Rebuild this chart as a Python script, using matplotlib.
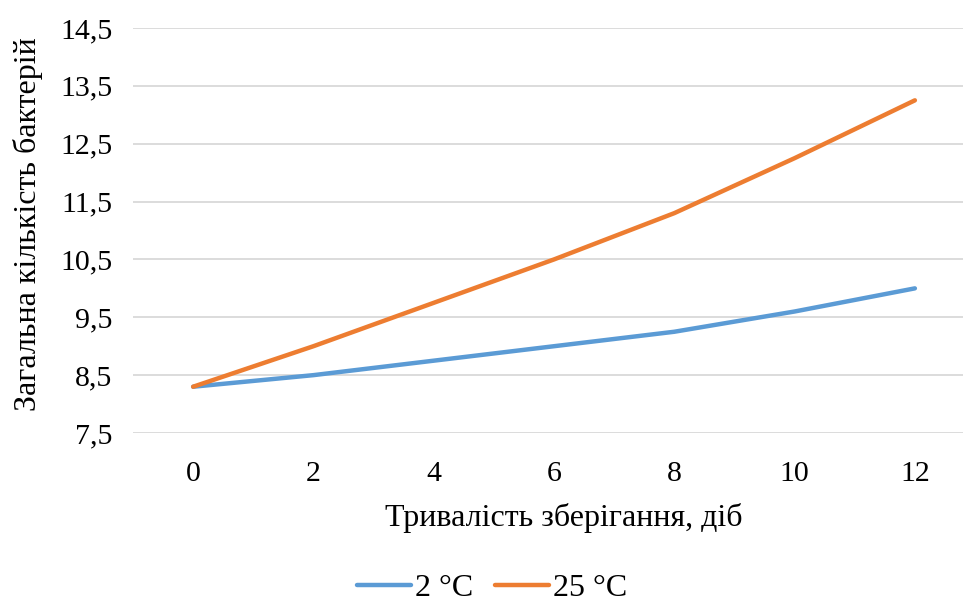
import matplotlib
matplotlib.use("Agg")
import matplotlib.pyplot as plt
from matplotlib.ticker import FuncFormatter

days = [0, 2, 4, 6, 8, 10, 12]
t2 = [8.3, 8.5, 8.75, 9.0, 9.25, 9.6, 10.0]
t25 = [8.3, 9.0, 9.75, 10.5, 11.3, 12.25, 13.25]
series_labels = ["2 °C", "25 °C"]
yticks = [7.5, 8.5, 9.5, 10.5, 11.5, 12.5, 13.5, 14.5]

plt.rcParams['font.family'] = ['Liberation Serif', 'DejaVu Serif']

W, H = 963, 605
fig = plt.figure(figsize=(W / 100, H / 100), dpi=100)
ax_l, ax_r, ax_t, ax_b = 133, 963, 28, 433
ax = fig.add_axes([ax_l / W, 1 - ax_b / H, (ax_r - ax_l) / W, (ax_b - ax_t) / H])

l1, = ax.plot(days, t2, color="#5B9BD5", lw=3.2, solid_capstyle="round", solid_joinstyle="round", label=series_labels[0])
l2, = ax.plot(days, t25, color="#ED7D31", lw=3.2, solid_capstyle="round", solid_joinstyle="round", label=series_labels[1])

ax.set_xlim(-1.0, 12.8)
ax.set_ylim(7.5, 14.5)
ax.set_yticks(yticks)
ax.yaxis.set_major_formatter(FuncFormatter(lambda v, p: f"{v:.1f}".replace(".", ",")))
ax.set_xticks(days)
ax.grid(axis="y", color="#D9D9D9", lw=1.3)
ax.set_axisbelow(True)
for s in ax.spines.values():
    s.set_visible(False)
ax.tick_params(axis="both", length=0, labelsize=21.5, colors="black")
ax.tick_params(axis="y", pad=15)
ax.tick_params(axis="x", pad=20)

ax.set_xlabel("Тривалість зберігання, діб", fontsize=23)
ax.set_ylabel("Загальна кількість бактерій", fontsize=23)
ax.xaxis.label.set_va("center")
ax.yaxis.label.set_va("center")
ax.xaxis.set_label_coords((564 - ax_l) / (ax_r - ax_l), (ax_b - 518) / (ax_b - ax_t))
ax.yaxis.set_label_coords((28 - ax_l) / (ax_r - ax_l), (ax_b - 224) / (ax_b - ax_t))

fig.legend(handles=[l1, l2], loc="center", bbox_to_anchor=(492 / W, 1 - 588 / H),
           ncol=2, frameon=False, fontsize=23, handlelength=1.7, columnspacing=0.7,
           handletextpad=0.1, borderpad=0.1)

fig.savefig("out.png", dpi=100)
